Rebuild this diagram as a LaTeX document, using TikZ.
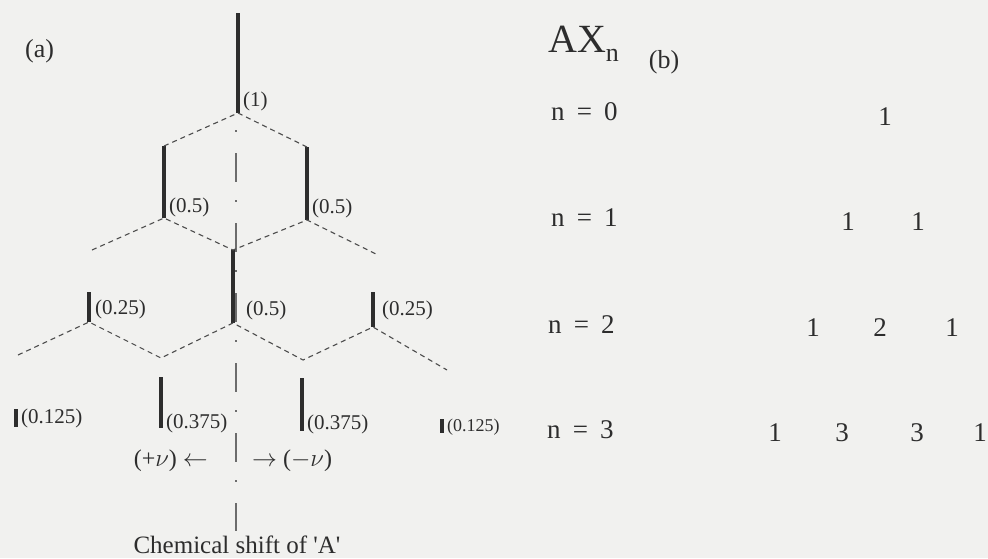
\documentclass[tikz,border=0pt]{standalone}
\usepackage{fontspec}
\setmainfont{Liberation Serif}
\usetikzlibrary{positioning}

\definecolor{paper}{RGB}{241,241,239}
\definecolor{ink}{RGB}{45,45,45}

\newcommand{\nrow}[1]{n\hspace{0.45em}=\hspace{0.45em}#1}

\begin{document}
\begin{tikzpicture}[
  x=1pt, y=-1pt,
  font=\fontsize{21}{24}\selectfont, text=ink,
  peak/.style={draw=ink, line width=3.4pt},
  split/.style={draw=ink!85, line width=1.1pt, dash pattern=on 5pt off 4pt},
  axisline/.style={draw=ink!70, line width=1.1pt, dash pattern=on 2pt off 21pt on 29pt off 18pt},
  wt/.style={anchor=west, inner sep=0pt},
  big/.style={inner sep=0pt, font=\fontsize{27}{30}\selectfont},
  tag/.style={inner sep=0pt, font=\fontsize{26}{30}\selectfont}
]

\clip (0,0) rectangle (988,558);
\fill[paper] (0,0) rectangle (988,558);

% (a) splitting tree
\coordinate (t0) at (238,13);   \coordinate (b0) at (238,113);
\coordinate (t1l) at (164,146); \coordinate (b1l) at (164,218);
\coordinate (t1r) at (307,147); \coordinate (b1r) at (307,220);
\coordinate (e2l) at (92,250);  \coordinate (e2r) at (376,254);
\coordinate (t2l) at (89,292);  \coordinate (b2l) at (89,322);
\coordinate (t2c) at (233,250); \coordinate (b2c) at (233,323);
\coordinate (t2r) at (373,292); \coordinate (b2r) at (373,327);
\coordinate (e3a) at (18,355);  \coordinate (e3d) at (447,370);
\coordinate (v3l) at (161,358); \coordinate (v3r) at (303,360);
\coordinate (t3a) at (16,409);  \coordinate (b3a) at (16,427);
\coordinate (t3b) at (161,377); \coordinate (b3b) at (161,428);
\coordinate (t3c) at (302,378); \coordinate (b3c) at (302,431);
\coordinate (t3d) at (442,419); \coordinate (b3d) at (442,433);
\coordinate (ax0) at (236,130); \coordinate (ax1) at (236,531);

\draw[axisline] (ax0) -- (ax1);

\foreach \p in {0,1l,1r,2l,2c,2r,3a,3b,3c,3d}
  \draw[peak] (t\p) -- (b\p);

\draw[split] (t1l) -- (b0) -- (t1r);
\draw[split] (e2l) -- (b1l) -- (t2c) -- (b1r) -- (e2r);
\draw[split] (e3a) -- (b2l) -- (v3l) -- (b2c) -- (v3r) -- (b2r) -- (e3d);

\node[wt] (w0) at (243,101) {(1)};
\node[wt] (w1l) at (169,207) {(0.5)};
\node[wt] (w1r) at (312,208) {(0.5)};
\node[wt] (w2l) at (95,309) {(0.25)};
\node[wt] (w2c) at (246,310) {(0.5)};
\node[wt] (w2r) at (382,310) {(0.25)};
\node[wt] (w3a) at (21,418) {(0.125)};
\node[wt] (w3b) at (166,423) {(0.375)};
\node[wt] (w3c) at (307,424) {(0.375)};
\node[wt, font=\fontsize{18}{20}\selectfont] (w3d) at (447,427) {(0.125)};

\node[inner sep=0pt, anchor=east, font=\fontsize{24}{28}\selectfont] (up) at (208,461) {(+$\nu$) $\leftarrow$};
\node[inner sep=0pt, anchor=west, font=\fontsize{24}{28}\selectfont] (down) at (252,461) {$\rightarrow$ ($-\nu$)};
\node[inner sep=0pt, anchor=base, font=\fontsize{25}{28}\selectfont] (shift) at (237,553)
  {Chemical shift of \textquotesingle A\textquotesingle};

\node[tag, anchor=west] (labA) at (25,51) {(a)};

% (b) intensity pattern
\node[inner sep=0pt, anchor=base west, font=\fontsize{40}{44}\selectfont] (ax) at (548,52)
  {AX\raisebox{-9pt}{\fontsize{26}{28}\selectfont n}};
\node[tag] (labB) at (664,62) {(b)};

\node[big, anchor=west] (n0) at (551,112) {\nrow{0}};
\node[big, anchor=west] (n1) at (551,218) {\nrow{1}};
\node[big, anchor=west] (n2) at (548,325) {\nrow{2}};
\node[big, anchor=west] (n3) at (547,430) {\nrow{3}};

\node[big] (c00) at (885,117) {1};
\node[big] (c10) at (848,222) {1};
\node[big] (c11) at (918,222) {1};
\node[big] (c20) at (813,328) {1};
\node[big] (c21) at (880,328) {2};
\node[big] (c22) at (952,328) {1};
\node[big] (c30) at (775,433) {1};
\node[big] (c31) at (842,433) {3};
\node[big] (c32) at (917,433) {3};
\node[big] (c33) at (980,433) {1};

\end{tikzpicture}
\end{document}
